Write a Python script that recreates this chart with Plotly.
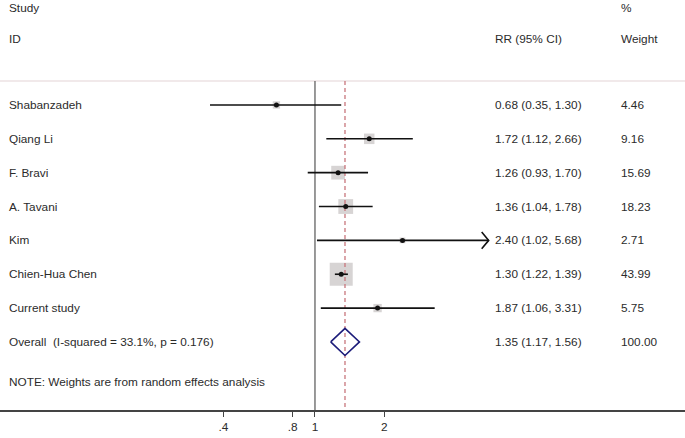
import math
import plotly.graph_objects as go

# ---- data ----
studies = ["Shabanzadeh", "Qiang Li", "F. Bravi", "A. Tavani", "Kim",
           "Chien-Hua Chen", "Current study"]
rr = [0.68, 1.72, 1.26, 1.36, 2.40, 1.30, 1.87]
ci_lo = [0.35, 1.12, 0.93, 1.04, 1.02, 1.22, 1.06]
ci_hi = [1.30, 2.66, 1.70, 1.78, 5.68, 1.39, 3.31]
weights = [4.46, 9.16, 15.69, 18.23, 2.71, 43.99, 5.75]
truncated = [False, False, False, False, True, False, False]

overall_label = "Overall  (I-squared = 33.1%, p = 0.176)"
overall_rr = 1.35
overall_lo = 1.17
overall_hi = 1.56
overall_weight = "100.00"

note_text = "NOTE: Weights are from random effects analysis"
tick_vals = [0.4, 0.8, 1, 2]
tick_text = [".4", ".8", "1", "2"]

# ---- layout constants ----
W, H = 685, 438
FONT = "Liberation Sans, Arial, sans-serif"
FS = 11.8
TXT = "#2b2b2b"
n = len(studies)
rows = list(range(n))
overall_row = n
note_row = 8.18
head1_row = -2.87
head2_row = -1.95
sep_row = -0.71
y_bottom = 9.01
y_top = -3.10

x_left_log = -1.368
x_right_log = 1.607

fig = go.Figure()

# weight boxes
max_w = max(weights)
box_sizes = [23 * math.sqrt(w / max_w) for w in weights]
fig.add_trace(go.Scatter(
    x=rr, y=rows, mode="markers",
    marker=dict(symbol="square", size=box_sizes, color="#c6c2c2",
                line=dict(width=0)),
    hoverinfo="skip", showlegend=False))

# reference line at 1
fig.add_trace(go.Scatter(
    x=[1, 1], y=[sep_row, y_bottom], mode="lines",
    line=dict(color="#555555", width=1.2),
    hoverinfo="skip", showlegend=False))

# overall dashed line
fig.add_trace(go.Scatter(
    x=[overall_rr, overall_rr], y=[sep_row, y_bottom], mode="lines",
    line=dict(color="#c8767c", width=1.3, dash="4px,3px"),
    hoverinfo="skip", showlegend=False))

# CI lines
lx, ly = [], []
for i in range(n):
    lx += [ci_lo[i], ci_hi[i], None]
    ly += [rows[i], rows[i], None]
    if truncated[i]:
        back = ci_hi[i] * math.exp(-0.07)
        lx += [back, ci_hi[i], back, None]
        ly += [rows[i] - 0.25, rows[i], rows[i] + 0.25, None]
fig.add_trace(go.Scatter(
    x=lx, y=ly, mode="lines", line=dict(color="#111111", width=1.6),
    hoverinfo="skip", showlegend=False))

# point estimates
fig.add_trace(go.Scatter(
    x=rr, y=rows, mode="markers",
    marker=dict(symbol="circle", size=5, color="#111111"),
    hoverinfo="skip", showlegend=False))

# overall diamond
dh = 0.4
fig.add_trace(go.Scatter(
    x=[overall_lo, overall_rr, overall_hi, overall_rr, overall_lo],
    y=[overall_row, overall_row - dh, overall_row, overall_row + dh, overall_row],
    mode="lines", line=dict(color="#1c1c7a", width=1.6),
    hoverinfo="skip", showlegend=False))

# separator line
fig.add_shape(type="line", xref="paper", yref="y", x0=0, x1=1,
              y0=sep_row, y1=sep_row, line=dict(color="#f1e9ea", width=2),
              layer="below")


def txt(xpx, yrow, s):
    fig.add_annotation(x=xpx / W, y=yrow, xref="paper", yref="y", text=s,
                       showarrow=False, xanchor="left", yanchor="middle",
                       font=dict(family=FONT, size=FS, color=TXT))


COL_NAME, COL_RR, COL_W = 7, 493, 619

# headers
txt(COL_NAME, head1_row, "Study")
txt(COL_NAME, head2_row, "ID")
txt(COL_RR, head2_row, "RR (95% CI)")
txt(COL_W, head1_row, "%")
txt(COL_W, head2_row, "Weight")

for i in range(n):
    txt(COL_NAME, rows[i], studies[i])
    txt(COL_RR, rows[i], f"{rr[i]:.2f} ({ci_lo[i]:.2f}, {ci_hi[i]:.2f})")
    txt(COL_W, rows[i], f"{weights[i]:.2f}")

txt(COL_NAME, overall_row, overall_label)
txt(COL_RR, overall_row, f"{overall_rr:.2f} ({overall_lo:.2f}, {overall_hi:.2f})")
txt(COL_W, overall_row, overall_weight)
txt(COL_NAME, note_row, note_text)

fig.update_layout(
    width=W, height=H,
    margin=dict(l=0, r=0, t=0, b=28),
    paper_bgcolor="white", plot_bgcolor="white",
    xaxis=dict(type="log", range=[x_left_log, x_right_log],
               tickvals=tick_vals, ticktext=tick_text,
               ticks="outside", ticklen=5, tickcolor="#444444", tickwidth=1,
               showline=True, linecolor="#444444", linewidth=1.5,
               showgrid=False, zeroline=False,
               tickfont=dict(family=FONT, size=FS, color=TXT)),
    yaxis=dict(range=[y_bottom, y_top], visible=False, showgrid=False,
               zeroline=False),
    showlegend=False,
)

fig.write_html("out.html",
               config={"displayModeBar": False, "staticPlot": True},
               post_script="document.body.style.margin='0';"
                           "document.body.style.padding='0';"
                           "document.body.style.overflow='hidden';")
